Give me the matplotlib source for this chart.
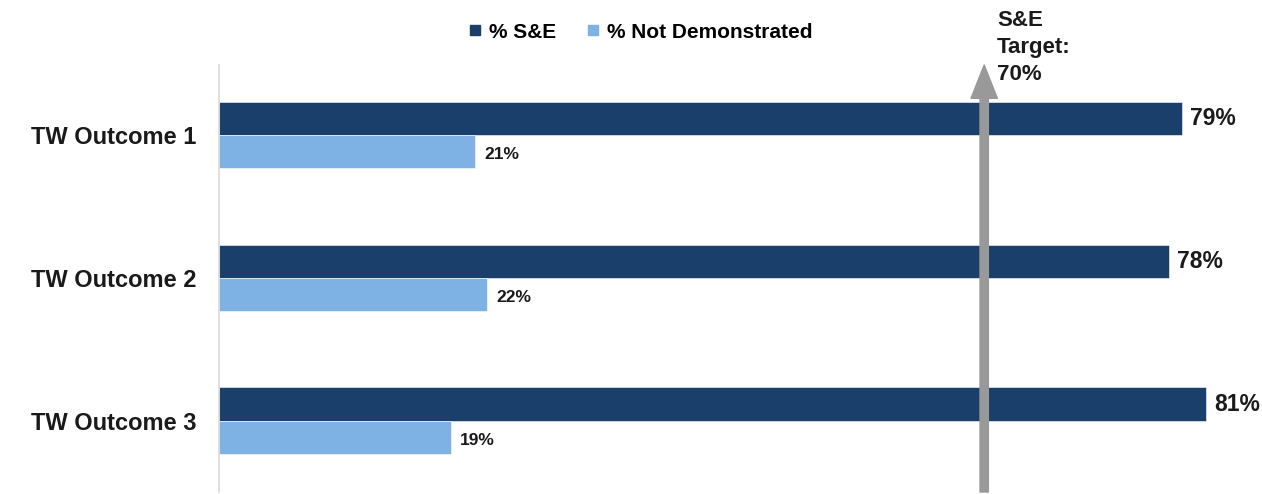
import matplotlib.pyplot as plt
import matplotlib.transforms as mtransforms
from matplotlib.lines import Line2D
import numpy as np

plt.rcParams['font.family'] = ['Liberation Sans', 'DejaVu Sans']

# ---- data ----
categories = ['TW Outcome 1', 'TW Outcome 2', 'TW Outcome 3']
se_pct = [79, 78, 81]
not_demo_pct = [21, 22, 19]
series_names = ['% S&E', '% Not Demonstrated']
target_label = 'S&E\nTarget:\n70%'
target_pos = 62.8   # where the arrow sits on the drawn scale

DARK = '#1B3F6B'
LIGHT = '#7FB2E4'
GREY = '#999999'

fig = plt.figure(figsize=(12.62, 4.94), dpi=100)
ax = fig.add_axes([219 / 1262, 2 / 494, 1 - 219 / 1262, 427 / 494])

y = np.arange(len(categories))
h = 0.232
bars1 = ax.barh(y - h / 2, se_pct, height=h, color=DARK, edgecolor='white', linewidth=0.4)
bars2 = ax.barh(y + h / 2, not_demo_pct, height=h, color=LIGHT, edgecolor='white', linewidth=0.4)

ax.set_xlim(0, 85.6)
ax.set_ylim(2.5, -0.49)

for b, v in zip(bars1, se_pct):
    ax.text(b.get_width() + 0.65, b.get_y() + b.get_height() / 2, f'{v}%',
            va='center', ha='left', fontsize=16.5, fontweight='bold', color='#1a1a1a')
for b, v in zip(bars2, not_demo_pct):
    ax.text(b.get_width() + 0.8, b.get_y() + b.get_height() / 2 + 0.02, f'{v}%',
            va='center', ha='left', fontsize=12.5, fontweight='bold', color='#1a1a1a')

ax.set_yticks(y)
ax.set_yticklabels(categories, fontsize=17, fontweight='bold', color='#1a1a1a')
ax.tick_params(axis='y', length=0, pad=16)
ax.set_xticks([])
for s in ['top', 'right', 'bottom']:
    ax.spines[s].set_visible(False)
ax.spines['left'].set_color('#D9D9D9')
ax.spines['left'].set_linewidth(1.2)

# target arrow
trans = mtransforms.blended_transform_factory(ax.transData, ax.transAxes)
ax.annotate('', xy=(target_pos, 1.0), xytext=(target_pos, 0.0),
            xycoords=trans, textcoords=trans,
            arrowprops=dict(width=6, headwidth=19, headlength=24, color=GREY, shrink=0),
            zorder=5, annotation_clip=False)
ax.text(target_pos + 1.05, 1.128, target_label, transform=trans, ha='left', va='top',
        fontsize=16, fontweight='bold', color='#1a1a1a', linespacing=1.35, clip_on=False)

handles = [Line2D([], [], marker='s', linestyle='', color=DARK, markersize=7),
           Line2D([], [], marker='s', linestyle='', color=LIGHT, markersize=7)]
fig.legend(handles, series_names, loc='center', bbox_to_anchor=(640 / 1262, 1 - 32 / 494),
           ncol=2, frameon=False, handlelength=0.7, handletextpad=0.35, columnspacing=1.4,
           prop={'size': 15, 'weight': 'bold'})

fig.savefig('out.png', dpi=100)
